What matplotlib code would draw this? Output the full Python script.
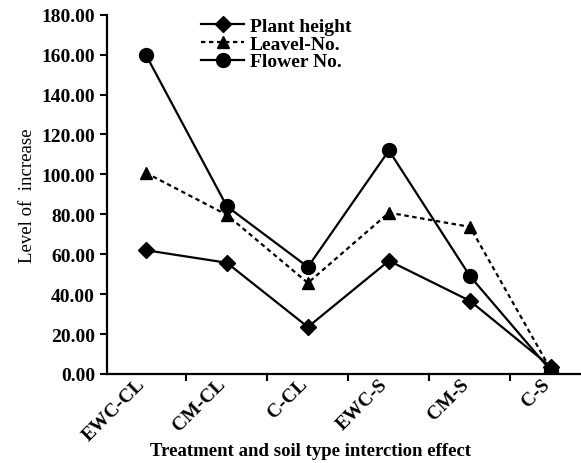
import numpy as np
import matplotlib.pyplot as plt

categories = ['EWC-CL', 'CM-CL', 'C-CL', 'EWC-S', 'CM-S', 'C-S']
plant_height = [62.0, 55.7, 23.5, 56.7, 36.6, 3.5]
leavel_no = [100.8, 79.7, 45.6, 80.8, 73.7, 2.0]
flower_no = [160.0, 84.0, 53.6, 112.0, 49.0, 1.5]
yticks = [0, 20, 40, 60, 80, 100, 120, 140, 160, 180]

plt.rcParams['font.family'] = ['Liberation Serif', 'DejaVu Serif']

fig = plt.figure(figsize=(5.81, 4.64), dpi=100)
ax = fig.add_axes([0.184, 0.192, 0.816, 0.774])

x = np.arange(len(categories))
ax.plot(x, plant_height, color='black', lw=1.6, marker='D', markersize=8, label='Plant height')
ax.plot(x, leavel_no, color='black', lw=1.6, ls=(0, (2, 1.6)), marker='^', markersize=9, label='Leavel-No.')
ax.plot(x, flower_no, color='black', lw=1.6, marker='o', markersize=10, label='Flower No.')

ax.set_xlim(-0.48, 5.37)
ax.set_ylim(0, 180)
ax.set_yticks(yticks)
ax.set_yticklabels(['%.2f' % v for v in yticks], fontsize=14, fontweight='bold')

# boundary ticks without labels, category labels on minor ticks
ax.set_xticks(x[:-1] + 0.49)
ax.set_xticklabels([])
ax.set_xticks(x - 0.12, minor=True)
ax.set_xticklabels(categories, minor=True, rotation=45, ha='right', rotation_mode='anchor',
                   fontsize=14, fontweight='bold')
ax.tick_params(axis='x', which='minor', length=0, pad=1)
ax.tick_params(axis='both', which='major', direction='out', length=5, width=1.5)

for s in ['top', 'right']:
    ax.spines[s].set_visible(False)
for s in ['left', 'bottom']:
    ax.spines[s].set_linewidth(1.6)

ax.set_ylabel('Level of  increase', fontsize=13.5, labelpad=4)
ax.set_xlabel('Treatment and soil type interction effect', fontsize=13.5, fontweight='bold')
ax.xaxis.set_label_coords(0.43, -0.19)

leg = ax.legend(loc='upper left', bbox_to_anchor=(0.17, 1.03), frameon=False,
                handlelength=2.2, handletextpad=0.3, labelspacing=0.0, borderpad=0.2,
                prop={'weight': 'bold', 'size': 14})

fig.savefig('out.png', dpi=100)
